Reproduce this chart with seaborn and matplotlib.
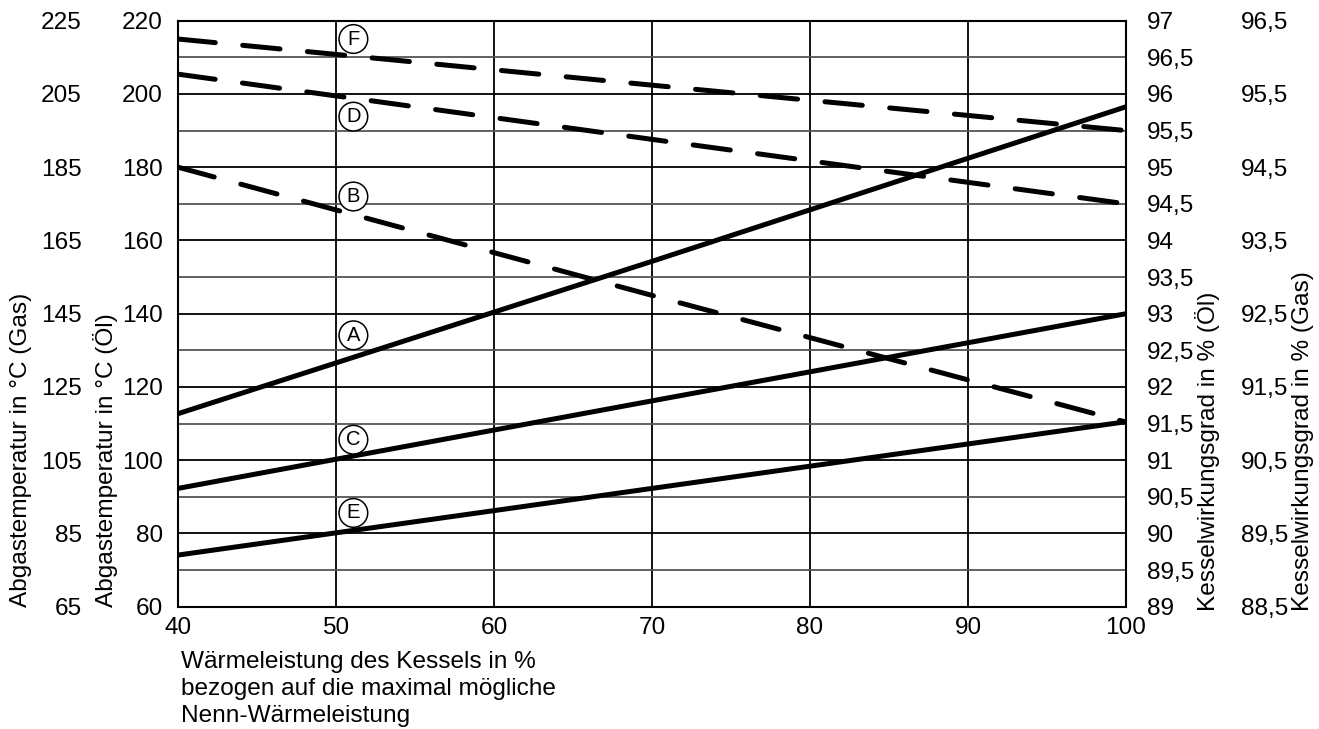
import matplotlib
matplotlib.use("Agg")
import matplotlib.pyplot as plt
import seaborn as sns
import pandas as pd
from matplotlib.ticker import MultipleLocator, FixedLocator, FuncFormatter

# ---- data ----
load_pct = [40, 70, 100]
# exhaust temperature curves, °C (Öl scale)
curve_A = [112.7, 154.3, 196.5]
curve_C = [92.3, 116.2, 140.0]
curve_E = [74.1, 92.3, 110.5]
# boiler efficiency curves, % (Öl scale)
curve_B = [95.0, 93.25, 91.52]
curve_D = [96.27, 95.38, 94.5]
curve_F = [96.75, 96.12, 95.5]

temp_labels = ["A", "C", "E"]
eff_labels = ["B", "D", "F"]
label_pos_x = [51.1, 51.1, 51.1, 51.1, 51.1, 51.1]
label_pos_y = [134.1, 105.6, 85.6, 172.0, 193.8, 215.0]
label_names = ["A", "C", "E", "B", "D", "F"]

gas_temp_ticks = [65, 85, 105, 125, 145, 165, 185, 205, 225]
gas_eff_ticks = [88.5, 89.5, 90.5, 91.5, 92.5, 93.5, 94.5, 95.5, 96.5]

x_label = "Wärmeleistung des Kessels in %\nbezogen auf die maximal mögliche\nNenn-Wärmeleistung"

sns.set_style("white")
plt.rcParams["font.family"] = ["Liberation Sans", "DejaVu Sans"]
plt.rcParams["text.color"] = "black"
plt.rcParams["axes.labelcolor"] = "black"
plt.rcParams["xtick.color"] = "black"
plt.rcParams["ytick.color"] = "black"
FS = 17.6

W, H = 1319, 729
PX = 72 / 100  # points per pixel
fig = plt.figure(figsize=(W / 100, H / 100), dpi=100)
L, R, B, T = 178, 1126, 606.7, 20.7
ax = fig.add_axes([L / W, 1 - B / H, (R - L) / W, (B - T) / H])

temp_df = pd.DataFrame({
    "load": load_pct * 3,
    "value": curve_A + curve_C + curve_E,
    "curve": sum([[n] * len(load_pct) for n in temp_labels], []),
})
eff_df = pd.DataFrame({
    "load": load_pct * 3,
    "value": curve_B + curve_D + curve_F,
    "curve": sum([[n] * len(load_pct) for n in eff_labels], []),
})

LW = 3.6
sns.lineplot(data=temp_df, x="load", y="value", hue="curve",
             palette={n: "black" for n in temp_labels}, lw=LW,
             legend=False, ax=ax, solid_capstyle="butt")
ax.set_xlim(40, 100)
ax.set_ylim(60, 220)
ax.xaxis.set_major_locator(MultipleLocator(10))
ax.yaxis.set_major_locator(MultipleLocator(20))
ax.yaxis.set_minor_locator(MultipleLocator(10))
ax.grid(True, which="major", axis="both", color="black", lw=1.3)
ax.grid(True, which="minor", axis="y", color="#555555", lw=1.3)
ax.set_axisbelow(True)
ax.tick_params(axis="both", which="both", length=0, labelsize=FS, colors="black")
ax.tick_params(axis="y", pad=15 * PX)
ax.tick_params(axis="x", pad=8 * PX + 2)
ax.set_xlabel("")
ax.set_ylabel("")
for s in ax.spines.values():
    s.set_visible(True)
    s.set_color("black")
    s.set_linewidth(1.5)

# efficiency axis (Öl), right
ax_eff = ax.twinx()
sns.lineplot(data=eff_df, x="load", y="value", hue="curve",
             palette={n: "black" for n in eff_labels}, lw=LW,
             legend=False, ax=ax_eff)
for line in ax_eff.lines:
    line.set_linestyle((0, (7.5, 5.5)))
    line.set_dash_capstyle("round")
ax_eff.set_ylim(89, 97)
ax_eff.yaxis.set_major_locator(MultipleLocator(0.5))
comma = FuncFormatter(lambda v, p: (f"{v:g}").replace(".", ","))
ax_eff.yaxis.set_major_formatter(comma)
ax_eff.tick_params(axis="y", length=0, labelsize=FS, pad=21 * PX, colors="black")
ax_eff.set_ylabel("")
for s in ax_eff.spines.values():
    s.set_visible(False)

# Gas temperature axis, outer left
ax_gt = ax.twinx()
ax_gt.yaxis.tick_left()
ax_gt.set_ylim(65, 225)
ax_gt.yaxis.set_major_locator(FixedLocator(gas_temp_ticks))
ax_gt.spines["left"].set_position(("outward", 81 * PX))
for s in ax_gt.spines.values():
    s.set_visible(False)
ax_gt.tick_params(axis="y", length=0, labelsize=FS, pad=15 * PX, colors="black")

# Gas efficiency axis, outer right
ax_ge = ax.twinx()
ax_ge.set_ylim(88.5, 96.5)
ax_ge.yaxis.set_major_locator(FixedLocator(gas_eff_ticks))
ax_ge.yaxis.set_major_formatter(comma)
ax_ge.spines["right"].set_position(("outward", 94 * PX))
for s in ax_ge.spines.values():
    s.set_visible(False)
ax_ge.tick_params(axis="y", length=0, labelsize=FS, pad=21 * PX, colors="black")

# circled curve labels
for n, xx, yy in zip(label_names, label_pos_x, label_pos_y):
    ax.text(xx, yy, n, ha="center", va="center", fontsize=14.5, zorder=5,
            bbox=dict(boxstyle="circle,pad=0.24", fc="white", ec="black", lw=1.1))

# axis labels
fig.text(21 / W, 1 - 607 / H, "Abgastemperatur in °C (Gas)", rotation=90,
         ha="center", va="bottom", fontsize=FS)
fig.text(106 / W, 1 - 607 / H, "Abgastemperatur in °C (Öl)", rotation=90,
         ha="center", va="bottom", fontsize=FS)
fig.text(1208 / W, 1 - 611 / H, "Kesselwirkungsgrad in % (Öl)", rotation=90,
         ha="center", va="bottom", fontsize=FS)
fig.text(1303 / W, 1 - 611 / H, "Kesselwirkungsgrad in % (Gas)", rotation=90,
         ha="center", va="bottom", fontsize=FS)
fig.text(181 / W, 1 - 651 / H, x_label, ha="left", va="top", fontsize=FS,
         linespacing=1.3)

fig.savefig("out.png", dpi=100)
